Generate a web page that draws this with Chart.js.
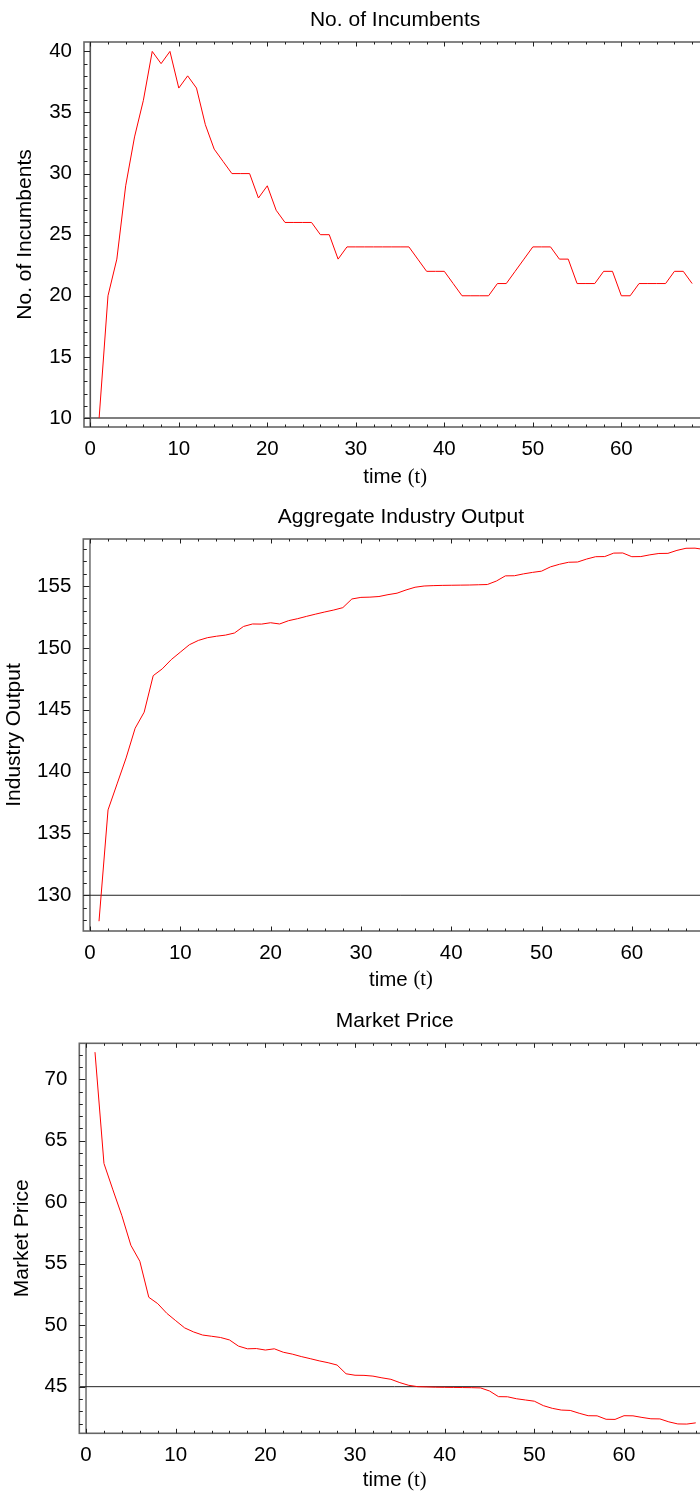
<!DOCTYPE html>
<html>
<head>
<meta charset="utf-8">
<script src="https://cdn.jsdelivr.net/npm/chart.js@4.4.1/dist/chart.umd.min.js"></script>
<style>
  html, body { margin: 0; padding: 0; background: #fff; overflow: hidden; width: 700px; height: 1497px; }
  #wrap { position: relative; width: 700px; height: 1497px; overflow: hidden; }
  #wrap canvas { position: absolute; left: 0; }
</style>
</head>
<body>
<div id="wrap">
  <canvas id="incumbentsChart"></canvas>
  <canvas id="outputChart"></canvas>
  <canvas id="priceChart"></canvas>
</div>
<script>
// ---- simulation results, one value per period ----
const periods = [1,2,3,4,5,6,7,8,9,10,11,12,13,14,15,16,17,18,19,20,21,22,23,24,25,26,27,28,29,30,31,32,33,34,
  35,36,37,38,39,40,41,42,43,44,45,46,47,48,49,50,51,52,53,54,55,56,57,58,59,60,61,62,63,64,65,66,67,68];

const incumbents = [10,20,23,29,33,36,40,39,40,37,38,37,34,32,31,30,30,30,28,29,27,26,26,26,26,25,25,23,24,24,
  24,24,24,24,24,24,23,22,22,22,21,20,20,20,20,21,21,22,23,24,24,24,23,23,21,21,21,22,22,20,20,21,21,21,21,22,22,21];

const industryOutput = [127.9,136.9,139.0,141.1,143.5,144.8,147.75,148.3,149.05,149.65,150.25,150.6,150.82,150.94,
  151.03,151.2,151.73,151.93,151.92,152.03,151.93,152.2,152.36,152.55,152.73,152.9,153.06,153.25,153.95,154.08,
  154.1,154.15,154.3,154.42,154.68,154.9,155.0,155.03,155.05,155.06,155.07,155.08,155.1,155.12,155.4,155.82,155.83,
  155.98,156.1,156.2,156.55,156.76,156.92,156.94,157.18,157.37,157.38,157.66,157.67,157.37,157.38,157.52,157.63,
  157.64,157.88,158.05,158.06,157.95];

const marketPrice = [72.2,63.15,61.0,58.9,56.5,55.2,52.27,51.75,50.97,50.37,49.78,49.45,49.2,49.1,49.0,48.8,48.3,
  48.08,48.1,47.98,48.08,47.8,47.65,47.45,47.28,47.1,46.95,46.76,46.05,45.93,45.92,45.86,45.72,45.6,45.33,45.11,
  45.0,44.98,44.96,44.95,44.94,44.93,44.92,44.9,44.65,44.19,44.18,44.02,43.92,43.82,43.46,43.24,43.1,43.07,42.84,
  42.64,42.63,42.35,42.34,42.64,42.63,42.5,42.39,42.38,42.14,41.97,41.96,42.06];

// ---- tick labels ----
const timeTicks = [0, 10, 20, 30, 40, 50, 60];
const incumbentTicks = [10, 15, 20, 25, 30, 35, 40];
const outputTicks = [130, 135, 140, 145, 150, 155];
const priceTicks = [45, 50, 55, 60, 65, 70];

// ---- text ----
const timeWord = 'time';
const timeSymbol = '(t)';

const SANS = "'Liberation Sans', Arial, Helvetica, sans-serif";
const SERIF = "'Liberation Serif', 'Times New Roman', serif";
const CANVAS_W = 740;
const TICK_SIZE = 20.5;

// Frame with inward ticks on every side, plus the axes through the origin,
// and the two-font horizontal axis title.
const framePlugin = {
  id: 'frameAndAxes',
  beforeDatasetsDraw(chart, args, o) {
    const { ctx, chartArea: a, scales: { x, y } } = chart;
    ctx.save();
    ctx.strokeStyle = o.axisColor;
    ctx.lineWidth = o.axisWidth;
    const x0 = x.getPixelForValue(0);
    const y0 = y.getPixelForValue(o.yOrigin);
    ctx.beginPath();
    ctx.moveTo(x0, a.top); ctx.lineTo(x0, a.bottom);
    ctx.moveTo(a.left, y0); ctx.lineTo(a.right, y0);
    ctx.stroke();
    ctx.restore();
  },
  afterDatasetsDraw(chart, args, o) {
    const { ctx, chartArea: a, scales: { x, y } } = chart;
    ctx.save();
    ctx.strokeStyle = o.frameColor;
    ctx.lineWidth = o.frameWidth;
    ctx.strokeRect(a.left, a.top, a.right - a.left, a.bottom - a.top);

    ctx.strokeStyle = o.tickColor;
    ctx.lineWidth = 1;
    ctx.beginPath();
    for (let v = Math.ceil(x.min / o.xMinor) * o.xMinor; v <= x.max; v += o.xMinor) {
      const px = Math.round(x.getPixelForValue(v)) + 0.5;
      const len = (Math.abs(v % o.xMajor) < 1e-9) ? o.xMajorLen : o.xMinorLen;
      ctx.moveTo(px, a.bottom); ctx.lineTo(px, a.bottom - len);
      ctx.moveTo(px, a.top); ctx.lineTo(px, a.top + len);
    }
    for (let v = Math.ceil(y.min / o.yMinor) * o.yMinor; v <= y.max; v += o.yMinor) {
      const py = Math.round(y.getPixelForValue(v)) + 0.5;
      const len = (Math.abs(v % o.yMajor) < 1e-9) ? o.yMajorLen : o.yMinorLen;
      ctx.moveTo(a.left, py); ctx.lineTo(a.left + len, py);
      ctx.moveTo(a.right, py); ctx.lineTo(a.right - len, py);
    }
    ctx.stroke();

    // "time (t)" : word in sans, symbol in serif
    const size = o.xTitleSize;
    ctx.fillStyle = '#000';
    ctx.textBaseline = 'middle';
    ctx.textAlign = 'left';
    ctx.font = size + 'px ' + SANS;
    const w1 = ctx.measureText(timeWord + ' ').width;
    ctx.font = size + 'px ' + SERIF;
    const w2 = ctx.measureText(timeSymbol).width;
    const cx = (a.left + a.right) / 2;
    const ty = a.bottom + o.xTitleOffset;
    const sx = cx - (w1 + w2) / 2;
    ctx.font = size + 'px ' + SANS;
    ctx.fillText(timeWord + ' ', sx, ty);
    ctx.font = size + 'px ' + SERIF;
    ctx.fillText(timeSymbol, sx + w1, ty);
    ctx.restore();
  }
};

function buildPanel(p) {
  const canvas = document.getElementById(p.id);
  canvas.width = CANVAS_W;
  canvas.height = p.height;
  canvas.style.width = CANVAS_W + 'px';
  canvas.style.height = p.height + 'px';
  canvas.style.top = p.top + 'px';

  const titleLine = 21 * 1.2;
  const titlePadTop = p.titleY - titleLine / 2;
  const titlePadBottom = p.chartTop - titlePadTop - titleLine;

  return new Chart(canvas, {
    type: 'line',
    data: {
      datasets: [{
        data: periods.map((t, i) => ({ x: t, y: p.values[i] })),
        borderColor: '#ff0000',
        borderWidth: 1,
        pointRadius: 0,
        tension: 0,
        fill: false
      }]
    },
    options: {
      responsive: false,
      animation: false,
      devicePixelRatio: 1,
      parsing: false,
      layout: { padding: { left: 0, top: 0, bottom: 0, right: CANVAS_W - p.right } },
      plugins: {
        legend: { display: false },
        tooltip: { enabled: false },
        title: {
          display: true,
          text: p.title,
          fullSize: false,
          color: '#000',
          font: { family: SANS, size: 21, weight: 'normal', lineHeight: 1.2 },
          padding: { top: titlePadTop, bottom: titlePadBottom }
        },
        frameAndAxes: {
          yOrigin: p.yOrigin,
          axisColor: p.axisColor,
          axisWidth: p.axisWidth,
          frameColor: '#666',
          frameWidth: 1.6,
          tickColor: '#222',
          xMinor: 2, xMajor: 10, xMajorLen: 4.5, xMinorLen: 2.5,
          yMinor: 1, yMajor: 5, yMajorLen: 6, yMinorLen: 3.5,
          xTitleSize: 20.5,
          xTitleOffset: p.xTitleOffset
        }
      },
      scales: {
        x: {
          type: 'linear',
          min: p.xMin,
          max: p.xMax,
          afterBuildTicks: s => { s.ticks = timeTicks.map(v => ({ value: v })); },
          afterFit: s => { s.height = p.height - p.chartBottom; },
          grid: { display: false, drawTicks: false },
          border: { display: false },
          ticks: { color: '#000', font: { family: SANS, size: TICK_SIZE }, padding: 10, autoSkip: false, maxRotation: 0 }
        },
        y: {
          type: 'linear',
          min: p.yMin,
          max: p.yMax,
          afterBuildTicks: s => { s.ticks = p.yTicks.map(v => ({ value: v })); },
          afterFit: s => { s.width = p.left; },
          grid: { display: false, drawTicks: false },
          border: { display: false },
          ticks: { color: '#000', font: { family: SANS, size: TICK_SIZE }, padding: 12, autoSkip: false },
          title: {
            display: true,
            text: p.yTitle,
            color: '#000',
            font: { family: SANS, size: 21, weight: 'normal', lineHeight: 1.2 },
            padding: { top: p.yTitleX - 12.6, bottom: 0 }
          }
        }
      }
    },
    plugins: [framePlugin]
  });
}

buildPanel({
  id: 'incumbentsChart', top: 0, height: 500,
  title: 'No. of Incumbents', yTitle: 'No. of Incumbents',
  values: incumbents, yTicks: incumbentTicks,
  yMin: 9.26, yMax: 40.77, yOrigin: 10,
  xMin: -0.71, xMax: 69.6,
  left: 84, right: 706.3, chartTop: 42, chartBottom: 427,
  titleY: 20, yTitleX: 25.5, xTitleOffset: 50.3,
  axisColor: '#555', axisWidth: 1.6
});

buildPanel({
  id: 'outputChart', top: 500, height: 500,
  title: 'Aggregate Industry Output', yTitle: 'Industry Output',
  values: industryOutput, yTicks: outputTicks,
  yMin: 127.11, yMax: 158.8, yOrigin: 130,
  xMin: -0.74, xMax: 69.6,
  left: 83.3, right: 718.5, chartTop: 39, chartBottom: 431,
  titleY: 17, yTitleX: 14.7, xTitleOffset: 49,
  axisColor: '#222', axisWidth: 1
});

buildPanel({
  id: 'priceChart', top: 1000, height: 497,
  title: 'Market Price', yTitle: 'Market Price',
  values: marketPrice, yTicks: priceTicks,
  yMin: 41.21, yMax: 72.92, yOrigin: 45,
  xMin: -0.75, xMax: 69.6,
  left: 79.3, right: 710.1, chartTop: 43.3, chartBottom: 433.3,
  titleY: 21.7, yTitleX: 22.5, xTitleOffset: 47.4,
  axisColor: '#222', axisWidth: 1
});
</script>
</body>
</html>
